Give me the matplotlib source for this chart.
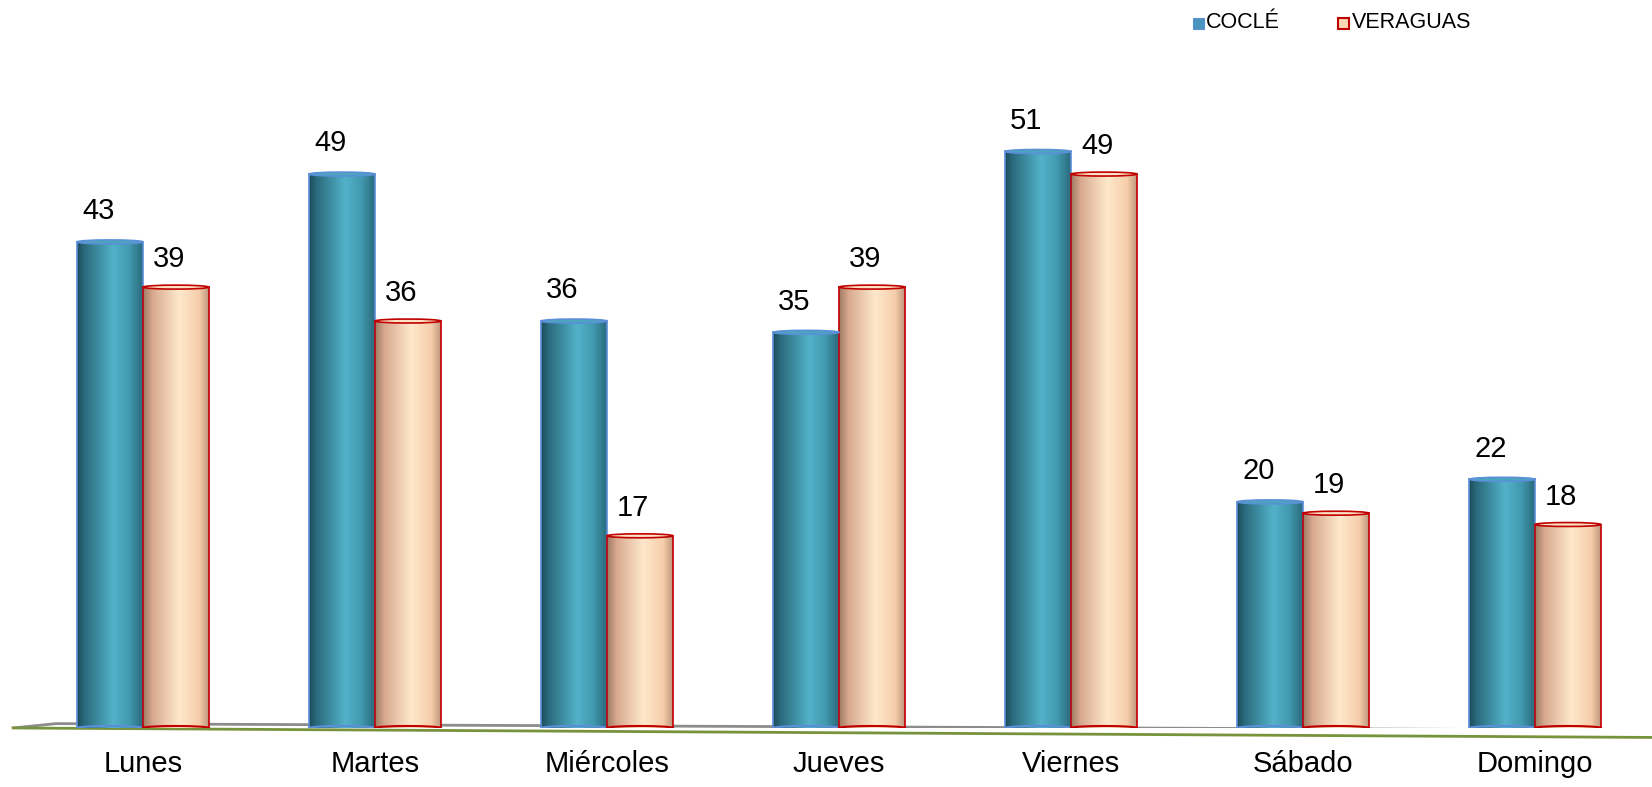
import matplotlib
matplotlib.use("Agg")
import matplotlib.pyplot as plt
import numpy as np
from matplotlib.colors import LinearSegmentedColormap
from matplotlib.patches import Rectangle, Ellipse

categories = ["Lunes", "Martes", "Miércoles", "Jueves", "Viernes", "Sábado", "Domingo"]
cocle = [43, 49, 36, 35, 51, 20, 22]
veraguas = [39, 36, 17, 39, 49, 19, 18]
series_names = ["COCLÉ", "VERAGUAS"]

plt.rcParams['font.family'] = ['Liberation Sans', 'DejaVu Sans']

fig = plt.figure(figsize=(16.52, 7.87), dpi=100)
ax = fig.add_axes([0, 0.075, 1, 0.925])
# centers: 143 + 232*i px
ax.set_xlim(-0.616, 6.504)
ax.set_ylim(0, 64.4)
ax.axis('off')

cm_c = LinearSegmentedColormap.from_list('c', [(0, '#1d4c5a'), (0.12, '#2b6c7e'), (0.55, '#53b2ca'),
                                                (0.8, '#4198ae'), (1, '#2a6a7c')])
cm_v = LinearSegmentedColormap.from_list('v', [(0, '#a07862'), (0.15, '#d8aa90'), (0.55, '#ffe8cb'),
                                                (0.85, '#f6cfac'), (1, '#bf967c')])
grad = np.linspace(0, 1, 256).reshape(1, -1)
bw = 0.284
x = np.arange(len(categories))

def cyl(xc, h, cmap, edge, top):
    x0 = xc - bw / 2
    rect = Rectangle((x0, 0), bw, h, facecolor='none', edgecolor='none')
    ax.add_patch(rect)
    im = ax.imshow(grad, cmap=cmap, extent=[x0, x0 + bw, 0, h], aspect='auto', zorder=2)
    im.set_clip_path(rect)
    ax.plot([x0, x0], [0, h], color=edge, lw=1.2, zorder=3)
    ax.plot([x0 + bw, x0 + bw], [0, h], color=edge, lw=1.2, zorder=3)
    ax.add_patch(Ellipse((xc, h), bw, 0.35, facecolor=top, edgecolor=edge, lw=1.2, zorder=4))
    ax.add_patch(Ellipse((xc, 0), bw, 0.35, facecolor='none', edgecolor=edge, lw=1.5, zorder=3))

# floor lines
ax.plot([0.008, 0.034, 1.0], [0.0, 0.006, -0.003], transform=ax.transAxes, color='#8c8c8c', lw=2, zorder=1)
ax.plot([0.008, 1.0], [0.0, -0.013], transform=ax.transAxes, color='#77933c', lw=2, zorder=1, clip_on=False)

for i in range(len(categories)):
    cyl(x[i] - bw / 2, cocle[i], cm_c, '#5b8fd8', '#4aa6bd')
    cyl(x[i] + bw / 2, veraguas[i], cm_v, '#c00000', '#fde3c6')
    ax.annotate(str(cocle[i]), (x[i] - bw / 2 - 0.05, cocle[i]), xytext=(0, 12), textcoords='offset points',
                ha='center', va='bottom', fontsize=21)
    ax.annotate(str(veraguas[i]), (x[i] + bw / 2 - 0.03, veraguas[i]), xytext=(0, 10), textcoords='offset points',
                ha='center', va='bottom', fontsize=21)
    ax.text(x[i], -3.2, categories[i], ha='center', va='center', fontsize=21)

# legend
fig.patches.append(Rectangle((1193 / 1652, 1 - 29 / 787), 11 / 1652, 11 / 787, transform=fig.transFigure,
                             facecolor='#4a95c0', edgecolor='#5b8fd8', lw=0.8))
fig.text(1206 / 1652, 1 - 23 / 787, series_names[0], fontsize=15.5, va='center', ha='left')
fig.patches.append(Rectangle((1338 / 1652, 1 - 29 / 787), 11 / 1652, 11 / 787, transform=fig.transFigure,
                             facecolor='#fcd5b5', edgecolor='#c00000', lw=1.5))
fig.text(1352 / 1652, 1 - 23 / 787, series_names[1], fontsize=15.5, va='center', ha='left')

fig.savefig("out.png", dpi=100)
